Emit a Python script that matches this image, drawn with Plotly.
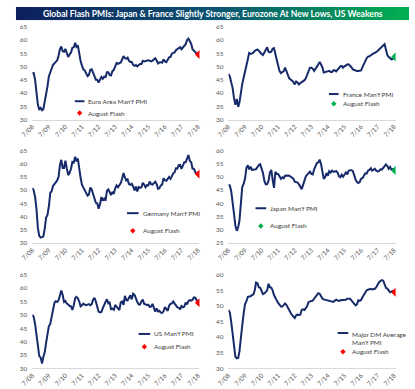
import base64
import plotly.graph_objects as go
import pandas as pd

W, H = 415, 389

# ---------------- data ----------------
dates = pd.date_range("2008-07-01", periods=121, freq="MS")
flash_date = pd.Timestamp("2018-08-01")
tick_dates = [pd.Timestamp(f"{y}-07-01") for y in range(2008, 2019)]
tick_labels = [f"7/{y % 100:02d}" for y in range(2008, 2019)]

euro = [47.4, 47.6, 45.0, 41.1, 35.6, 33.9,
        34.4, 33.5, 33.9, 36.8, 40.7, 42.6, 46.3, 48.2, 49.3, 50.7, 51.2, 51.6,
        52.4, 54.2, 56.6, 57.6, 55.8, 55.6, 56.7, 55.1, 53.7, 54.6, 55.3, 57.1,
        57.3, 59.0, 57.5, 58.0, 54.6, 52.0, 50.4, 49.0, 48.5, 47.1, 46.4, 46.9,
        48.8, 49.0, 47.7, 45.9, 45.1, 45.1, 44.0, 45.1, 46.1, 45.4, 46.2, 46.1,
        47.9, 47.9, 46.8, 46.7, 48.3, 48.8, 50.3, 51.4, 51.1, 51.3, 51.6, 52.7,
        54.0, 53.2, 53.0, 53.4, 52.2, 51.8, 51.8, 50.7, 50.3, 50.6, 50.1, 50.6,
        51.0, 51.0, 52.2, 52.0, 52.2, 52.5, 52.4, 52.3, 52.0, 52.3, 52.8, 53.2,
        52.3, 51.2, 51.6, 51.7, 51.5, 52.8, 52.0, 51.7, 52.6, 53.5, 53.7, 54.9,
        55.2, 55.4, 56.2, 56.7, 57.0, 57.4, 56.6, 57.4, 58.1, 58.5, 60.1, 60.6,
        59.6, 58.6, 56.6, 56.2, 55.5, 54.9, 55.1]
euro_flash = 54.6

france = [47.2, 46.3, 44.0, 42.0, 38.0, 35.6,
          37.8, 34.8, 36.5, 40.5, 43.5, 45.8, 48.5, 50.4, 52.8, 55.2, 54.8, 55.0,
          55.3, 56.0, 56.4, 56.5, 56.0, 55.2, 54.8, 54.4, 55.6, 56.4, 57.3, 55.6,
          55.4, 55.7, 56.8, 57.0, 55.2, 52.5, 50.4, 48.3, 47.6, 47.8, 48.3, 49.6,
          48.0, 47.0, 45.6, 45.1, 44.6, 44.2, 43.3, 44.4, 44.0, 43.3, 43.8, 44.1,
          44.5, 44.9, 45.6, 47.0, 48.5, 49.6, 49.6, 49.2, 48.4, 49.0, 50.0, 50.8,
          51.8, 50.8, 49.8, 47.8, 48.0, 48.2, 48.3, 48.4, 48.0, 48.0, 48.6, 48.6,
          48.2, 49.0, 49.6, 50.1, 50.3, 49.6, 50.1, 50.6, 50.8, 50.9, 50.4, 49.8,
          49.0, 48.7, 48.4, 48.4, 48.4, 48.4, 48.6, 49.8, 51.0, 52.2, 53.2, 53.8,
          53.9, 54.3, 54.8, 55.0, 55.2, 55.5, 55.9, 56.5, 56.9, 57.3, 58.0, 58.5,
          56.7, 54.3, 53.7, 53.3, 52.8, 53.0, 53.3]
france_flash = 53.7

germany = [50.8, 49.9, 47.4, 42.9, 35.7, 32.7,
           32.0, 32.1, 32.4, 35.4, 39.6, 40.6, 43.8, 49.0, 49.6, 51.6, 52.4, 52.7,
           53.7, 55.1, 59.4, 61.5, 58.4, 58.4, 61.2, 58.2, 55.7, 56.6, 58.1, 60.7,
           60.5, 62.7, 60.9, 62.0, 57.7, 54.6, 52.0, 50.9, 50.3, 49.1, 47.9, 48.4,
           51.0, 50.2, 48.4, 46.2, 45.2, 45.0, 43.0, 44.7, 47.4, 46.0, 46.8, 46.0,
           49.8, 50.3, 49.0, 48.1, 49.4, 48.6, 50.7, 51.8, 51.1, 51.7, 52.7, 54.3,
           56.5, 54.8, 53.7, 54.1, 52.3, 52.0, 52.4, 51.4, 49.9, 51.4, 49.5, 51.2,
           50.9, 51.1, 52.8, 52.1, 51.1, 51.9, 51.8, 53.3, 52.3, 52.1, 52.9, 53.2,
           52.3, 50.5, 50.7, 51.8, 52.1, 54.5, 53.8, 53.6, 54.3, 55.0, 54.3, 55.6,
           56.4, 56.8, 58.3, 58.2, 59.5, 59.6, 58.1, 59.3, 60.6, 60.6, 62.5, 63.3,
           61.1, 60.6, 58.2, 58.1, 56.9, 55.9, 56.9]
germany_flash = 56.1

japan = [47.1, 46.7, 44.5, 41.0, 36.0, 31.5,
         29.6, 31.0, 33.5, 40.0, 46.2, 47.4, 49.3, 53.5, 54.4, 52.9, 53.9, 52.7,
         52.7, 52.8, 53.0, 53.9, 54.5, 54.8, 53.5, 51.5, 48.5, 47.2, 47.3, 48.5,
         51.7, 52.7, 49.0, 45.9, 52.0, 51.1, 51.1, 50.0, 49.3, 49.9, 49.5, 50.5,
         50.7, 50.6, 50.5, 50.1, 49.8, 49.4, 48.2, 48.0, 47.9, 47.2, 46.2, 45.4,
         47.0, 49.0, 50.2, 50.9, 51.5, 52.0, 51.2, 51.0, 52.9, 54.2, 55.3, 55.5,
         56.6, 54.8, 51.7, 49.3, 49.9, 51.5, 50.5, 52.2, 51.7, 52.4, 52.0, 52.0,
         52.2, 51.6, 50.3, 49.9, 50.9, 50.1, 51.2, 51.7, 51.0, 52.4, 52.6, 52.6,
         52.3, 50.1, 49.1, 48.1, 47.7, 48.1, 49.3, 49.5, 50.4, 51.4, 51.3, 52.4,
         52.7, 53.3, 52.4, 52.7, 53.1, 52.4, 52.1, 52.2, 52.9, 52.8, 53.6, 54.0,
         54.8, 54.1, 53.1, 53.8, 52.8, 53.0, 52.3]
japan_flash = 52.5

us = [50.0, 49.2, 46.5, 43.0, 39.5, 34.7,
      34.0, 31.8, 34.2, 36.0, 39.5, 42.0, 45.8, 46.6, 49.0, 52.5, 54.5, 55.1,
      54.8, 55.5, 57.0, 59.1, 57.5, 54.8, 55.2, 54.2, 53.9, 53.3, 53.2, 51.8,
      53.6, 56.3, 56.7, 56.2, 55.0, 53.2, 53.6, 54.2, 53.8, 53.6, 53.8, 54.0,
      53.6, 54.0, 55.7, 56.4, 55.0, 53.2, 51.2, 50.9, 51.1, 52.5, 53.9, 54.8,
      55.8, 54.3, 54.6, 52.1, 52.3, 51.9, 53.7, 53.1, 52.8, 51.8, 54.7, 55.0,
      53.7, 57.1, 55.5, 55.4, 56.4, 57.3, 55.8, 57.9, 57.5, 55.9, 54.8, 53.9,
      53.9, 55.1, 55.7, 54.1, 54.0, 53.6, 53.8, 53.0, 53.1, 54.1, 52.8, 51.2,
      52.4, 51.3, 51.5, 50.8, 50.7, 51.3, 52.9, 52.0, 51.5, 53.4, 54.1, 54.3,
      55.0, 54.2, 53.3, 52.8, 52.7, 52.0, 53.3, 52.8, 53.1, 54.6, 53.9, 55.1,
      55.5, 55.3, 55.6, 56.5, 56.4, 55.4, 55.3]
us_flash = 54.5

major_dm = [48.7, 47.9, 44.8, 40.5, 36.3, 33.7,
            33.2, 33.3, 35.5, 40.5, 43.8, 47.5, 50.5, 51.5, 52.9, 53.0, 53.1, 53.5,
            53.7, 55.0, 57.5, 57.3, 56.0, 55.8, 54.5, 53.8, 54.0, 54.4, 55.0, 57.1,
            56.0, 55.8, 55.0, 53.5, 52.3, 51.7, 51.0, 50.4, 49.8, 49.8, 50.2, 50.8,
            50.3, 49.3, 48.5, 47.8, 47.1, 46.7, 46.1, 47.0, 47.2, 47.1, 47.2, 48.7,
            48.9, 48.7, 49.2, 50.0, 51.2, 51.5, 51.6, 51.7, 52.3, 52.9, 53.7, 54.1,
            53.9, 53.0, 52.4, 52.1, 52.0, 51.9, 51.8, 51.7, 51.6, 51.5, 51.3, 51.7,
            52.0, 51.7, 51.6, 51.8, 51.8, 51.8, 51.8, 52.0, 52.3, 52.3, 52.3, 51.8,
            51.2, 50.6, 50.2, 50.5, 51.8, 51.6, 51.9, 52.8, 53.7, 54.4, 55.0, 55.2,
            55.4, 55.5, 55.3, 55.3, 55.5, 56.0, 57.0, 57.6, 58.0, 58.3, 58.1, 56.9,
            55.8, 55.5, 55.0, 54.4, 54.6, 54.8, 54.6]
major_dm_flash = 54.4

series_names = ["Euro Area Man'f PMI", "France Man'f PMI", "Germany Man'f PMI",
                "Japan Man'f PMI", "US Man'f PMI", "Major DM Average<br>Man'f PMI"]
series_values = [euro, france, germany, japan, us, major_dm]
flash_values = [euro_flash, france_flash, germany_flash, japan_flash, us_flash, major_dm_flash]
flash_label = "August Flash"
title_text = "Global Flash PMIs: Japan & France Slightly Stronger, Eurozone At New Lows, US Weakens"

# ---------------- styling / layout ----------------
RED, GREEN, NAVY = "#ff0000", "#00b050", "#172b6b"
flash_colors = [RED, GREEN, RED, GREEN, RED, RED]
y_ranges = [(30, 65), (30, 65), (30, 65), (25, 60), (30, 65), (30, 60)]
# plot areas in pixels: x0, x1, ytop, ybottom
boxes = [(21, 194, 23.4, 117.7), (224, 397, 23.4, 117.7),
         (21, 194, 149.3, 243.3), (224, 397, 149.3, 243.3),
         (21, 194, 275.7, 371.0), (224, 397, 275.7, 371.0)]
# legend: line x0, x1, y ; marker x, y ; text x
legend_pos = [(65, 75, 99, 70, 111, 77), (328, 338, 91.7, 333, 101.7, 340),
              (119, 131, 213, 125, 231, 133), (252, 263, 208, 257.5, 226, 265),
              (131, 143, 336, 137, 349, 145), (337, 348, 335, 342.5, 354, 350)]

fx = lambda px: px / W
fy = lambda px: 1 - px / H

NARROW = "Liberation Sans Narrow, Lato, Arial, sans-serif"
TICKFONT = dict(family=NARROW, size=6.5, color="#595959")
LEGFONT = dict(family=NARROW, size=6.5, color="#404040")

fig = go.Figure()
layout = dict(width=W, height=H, margin=dict(l=0, r=0, t=0, b=0),
              paper_bgcolor="white", plot_bgcolor="rgba(0,0,0,0)", showlegend=False)
shapes, annotations = [], []

for i in range(6):
    n = "" if i == 0 else str(i + 1)
    x0, x1, yt, yb = boxes[i]
    fig.add_trace(go.Scatter(x=dates, y=series_values[i], mode="lines",
                             line=dict(color=NAVY, width=2),
                             name=series_names[i], xaxis="x" + n, yaxis="y" + n,
                             hoverinfo="skip"))
    fig.add_trace(go.Scatter(x=[flash_date], y=[flash_values[i]], mode="markers",
                             marker=dict(symbol="diamond", size=7, color=flash_colors[i]),
                             name=flash_label, xaxis="x" + n, yaxis="y" + n,
                             hoverinfo="skip"))
    layout["xaxis" + n] = dict(domain=[fx(x0), fx(x1)], anchor="y" + n, type="date",
                               range=[dates[0], flash_date], tickvals=tick_dates,
                               ticktext=tick_labels, tickangle=-45, tickfont=TICKFONT,
                               showgrid=False, zeroline=False, showline=True,
                               linecolor="#d9d9d9", linewidth=1, ticks="")
    layout["yaxis" + n] = dict(domain=[fy(yb), fy(yt)], anchor="x" + n,
                               range=list(y_ranges[i]), dtick=5, tickfont=TICKFONT,
                               showgrid=False, zeroline=False, showline=False,
                               ticks="", ticklabelstandoff=4)
    # legend glyphs
    lx0, lx1, ly, mx, my, tx = legend_pos[i]
    shapes.append(dict(type="line", xref="paper", yref="paper",
                       x0=fx(lx0), x1=fx(lx1), y0=fy(ly), y1=fy(ly),
                       line=dict(color=NAVY, width=2)))
    r = 2.8
    path = (f"M{fx(mx)},{fy(my - r)} L{fx(mx + r)},{fy(my)} "
            f"L{fx(mx)},{fy(my + r)} L{fx(mx - r)},{fy(my)} Z")
    shapes.append(dict(type="path", xref="paper", yref="paper", path=path,
                       fillcolor=flash_colors[i], line=dict(width=0)))
    if "<br>" in series_names[i]:
        annotations.append(dict(x=fx(tx), y=fy(ly - 4.5), xref="paper", yref="paper",
                                text=series_names[i], showarrow=False, xanchor="left",
                                yanchor="top", align="left", font=LEGFONT))
    else:
        annotations.append(dict(x=fx(tx), y=fy(ly), xref="paper", yref="paper",
                                text=series_names[i], showarrow=False, xanchor="left",
                                yanchor="middle", font=LEGFONT))
    annotations.append(dict(x=fx(tx), y=fy(my), xref="paper", yref="paper",
                            text=flash_label, showarrow=False, xanchor="left",
                            yanchor="middle", font=LEGFONT))

# title banner: horizontal gradient image
bx0, bx1, by0, by1 = 4, 411, 3, 16.5
svg = ("<svg xmlns='http://www.w3.org/2000/svg' width='407' height='14' viewBox='0 0 407 14' "
       "preserveAspectRatio='none'><defs><linearGradient id='g' x1='0' y1='0' x2='1' y2='0'>"
       "<stop offset='0' stop-color='#0d1f5c'/><stop offset='0.5' stop-color='#0b5272'/>"
       "<stop offset='1' stop-color='#00b050'/></linearGradient></defs>"
       "<rect x='0' y='0' width='407' height='14' fill='url(#g)'/></svg>")
src = "data:image/svg+xml;base64," + base64.b64encode(svg.encode()).decode()
layout["images"] = [dict(source=src, xref="paper", yref="paper", x=fx(bx0), y=fy(by0),
                         sizex=(bx1 - bx0) / W, sizey=(by1 - by0) / H, sizing="stretch",
                         xanchor="left", yanchor="top", layer="below")]
annotations.append(dict(x=fx((bx0 + bx1) / 2), y=fy((by0 + by1) / 2), xref="paper", yref="paper",
                        xanchor="center", yanchor="middle", borderpad=0,
                        text=f"<b>{title_text}</b>", showarrow=False,
                        font=dict(family=NARROW, size=8.6, color="white")))

layout["shapes"] = shapes
layout["annotations"] = annotations
fig.update_layout(**layout)
fig.write_html("out.html", config={"displayModeBar": False},
               post_script="document.body.style.margin='0';document.body.style.overflow='hidden';")
